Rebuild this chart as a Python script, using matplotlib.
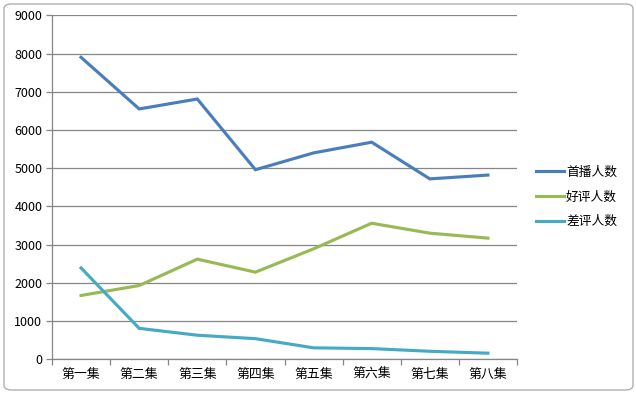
import numpy as np
import matplotlib
matplotlib.use('Agg')
import matplotlib.pyplot as plt
from matplotlib.patches import FancyBboxPatch

plt.rcParams['font.family'] = ['Noto Sans CJK SC', 'DejaVu Sans']

# data
episodes = ['第一集', '第二集', '第三集', '第四集', '第五集', '第六集', '第七集', '第八集']
first_view = [7900, 6550, 6810, 4960, 5400, 5680, 4720, 4820]
good_review = [1670, 1930, 2620, 2280, 2890, 3560, 3300, 3170]
bad_review = [2390, 810, 630, 540, 300, 280, 210, 160]
series_names = ['首播人数', '好评人数', '差评人数']
y_ticks = [0, 1000, 2000, 3000, 4000, 5000, 6000, 7000, 8000, 9000]

colors = ['#4A7EBB', '#98B954', '#46AAC5']
grid_color = '#868686'

fig = plt.figure(figsize=(6.36, 3.93), dpi=100)
W, H = 636, 393

# chart area border, kept behind the axes
border = FancyBboxPatch((4 / W, 3 / H), 629 / W, 386 / H,
                        boxstyle='round,pad=0,rounding_size=0.012',
                        transform=fig.transFigure, facecolor='white',
                        edgecolor='#b0b0b0', linewidth=1.0, zorder=-5)
fig.patches.append(border)

ax = fig.add_axes([52 / W, 1 - 359.3 / H, (517 - 52) / W, (359.3 - 15.3) / H])
ax.set_facecolor('none')

x = np.arange(len(episodes))
for vals, name, c in zip([first_view, good_review, bad_review], series_names, colors):
    ax.plot(x, vals, color=c, linewidth=2.25, label=name, solid_joinstyle='miter')

ax.set_xlim(-0.5, len(episodes) - 0.5)
ax.set_ylim(0, 9000)
ax.set_yticks(y_ticks)
ax.set_yticklabels([str(v) for v in y_ticks], fontsize=9)
ax.yaxis.grid(True, color=grid_color, linewidth=0.9)
ax.set_axisbelow(True)

# category ticks at boundaries, labels centered
ax.set_xticks(np.arange(-0.5, len(episodes)), minor=False)
ax.set_xticklabels([])
ax.set_xticks(x, minor=True)
ax.set_xticklabels(episodes, minor=True, fontsize=9.3)
ax.tick_params(axis='x', which='major', length=4, width=0.9, color=grid_color, direction='out')
ax.tick_params(axis='x', which='minor', length=0, pad=6)
ax.tick_params(axis='y', length=4, width=0.9, color=grid_color, direction='out', pad=3)

for s in ['top', 'right']:
    ax.spines[s].set_visible(False)
for s in ['left', 'bottom']:
    ax.spines[s].set_color(grid_color)
    ax.spines[s].set_linewidth(0.9)

fig.legend(loc='center left', bbox_to_anchor=(524 / W, 1 - 197 / H),
           frameon=False, fontsize=9.2, handlelength=2.2, handletextpad=0.2,
           labelspacing=0.92)

fig.savefig('out.png', dpi=100)
